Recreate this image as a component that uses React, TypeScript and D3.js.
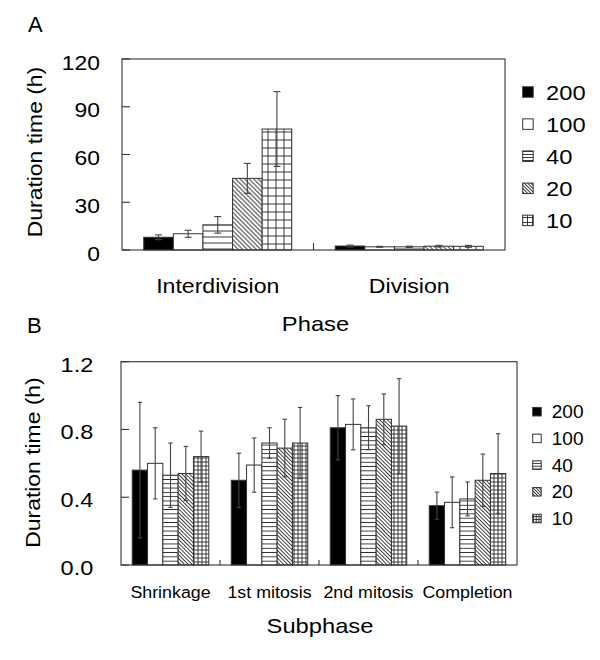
import React from "react";
import * as d3 from "d3";

// ---------- data ----------
const SERIES = ["200", "100", "40", "20", "10"];

const PHASES = ["Interdivision", "Division"];
const interdivisionMeans = [8.0, 10.2, 15.8, 45.0, 76.0];
const interdivisionErrs = [1.5, 2.2, 5.2, 9.4, 23.5];
const divisionMeans = [2.5, 2.0, 2.0, 2.4, 2.3];
const divisionErrs = [0.6, 0.3, 0.4, 0.5, 0.6];
const phaseTicks = [0, 30, 60, 90, 120];

const SUBPHASES = ["Shrinkage", "1st mitosis", "2nd mitosis", "Completion"];
const shrinkageMeans = [0.56, 0.6, 0.53, 0.54, 0.64];
const shrinkageErrs = [0.4, 0.21, 0.19, 0.16, 0.15];
const mitosis1Means = [0.5, 0.59, 0.72, 0.69, 0.72];
const mitosis1Errs = [0.16, 0.16, 0.09, 0.17, 0.21];
const mitosis2Means = [0.81, 0.83, 0.81, 0.86, 0.82];
const mitosis2Errs = [0.19, 0.15, 0.13, 0.15, 0.28];
const completionMeans = [0.35, 0.37, 0.39, 0.5, 0.54];
const completionErrs = [0.08, 0.15, 0.1, 0.155, 0.235];
const subphaseTicks = [0, 0.4, 0.8, 1.2];

const FONT = "'Liberation Sans', Arial, Helvetica, sans-serif";
const FILLS = ["solid", "white", "h", "d", "g"];

type Row = { cat: string; means: number[]; errs: number[] };

const T = ({ x, y, size, anchor = "start", sx = 1.1, rotate = 0, children }: any) => (
  <text
    transform={`translate(${x},${y}) rotate(${rotate}) scale(${sx},1)`}
    fontSize={size}
    textAnchor={anchor}
    fontFamily={FONT}
    fill="#000"
  >
    {children}
  </text>
);

function Patterns({ id, h, d, g }: { id: string; h: number; d: number; g: number }) {
  const stroke = "#222";
  const sw = 0.9;
  return (
    <>
      <pattern id={`${id}-h`} width={8} height={h} patternUnits="userSpaceOnUse">
        <rect width={8} height={h} fill="#fff" />
        <line x1={0} x2={8} y1={h / 2} y2={h / 2} stroke={stroke} strokeWidth={sw} />
      </pattern>
      <pattern id={`${id}-d`} width={8} height={d} patternUnits="userSpaceOnUse" patternTransform="rotate(45)">
        <rect width={8} height={d} fill="#fff" />
        <line x1={0} x2={8} y1={d / 2} y2={d / 2} stroke={stroke} strokeWidth={sw} />
      </pattern>
      <pattern id={`${id}-g`} width={g} height={g} patternUnits="userSpaceOnUse">
        <rect width={g} height={g} fill="#fff" />
        <line x1={0} x2={g} y1={g / 2} y2={g / 2} stroke={stroke} strokeWidth={sw} />
        <line x1={g / 2} x2={g / 2} y1={0} y2={g} stroke={stroke} strokeWidth={sw} />
      </pattern>
    </>
  );
}

function fillFor(i: number, pid: string) {
  const f = FILLS[i];
  if (f === "solid") return "#000";
  if (f === "white") return "#fff";
  return `url(#${pid}-${f})`;
}

function Panel(props: {
  rows: Row[];
  x0: number; x1: number; y0: number; y1: number;
  max: number; ticks: number[]; fmt: (v: number) => string;
  pid: string; tickLen: number; sepLen: number; capW: number;
  tickSize: number; tickSx: number; tickDy: number; tickX: number;
  catSize: number; catSx: number; catY: number;
}) {
  const p = props;
  const x = d3.scaleBand().domain(p.rows.map((r) => r.cat)).range([p.x0, p.x1]).paddingInner(0).paddingOuter(0);
  const xs = d3.scaleBand().domain(SERIES).range([0, x.bandwidth()]).paddingInner(0).paddingOuter(0.735);
  const y = d3.scaleLinear().domain([0, p.max]).range([p.y0, p.y1]);
  const axisColor = "#333";
  return (
    <g>
      {p.rows.map((r) => (
        <g key={r.cat}>
          {SERIES.map((s, i) => {
            const bx = (x(r.cat) as number) + (xs(s) as number);
            const v = r.means[i];
            return (
              <rect
                key={s}
                x={bx}
                y={y(v)}
                width={xs.bandwidth()}
                height={y(0) - y(v)}
                fill={fillFor(i, p.pid)}
                stroke="#333"
                strokeWidth={1}
              />
            );
          })}
          {SERIES.map((s, i) => {
            const cx = (x(r.cat) as number) + (xs(s) as number) + xs.bandwidth() / 2;
            const v = r.means[i];
            const e = r.errs[i];
            return (
              <g key={s} stroke="#444" strokeWidth={1.1}>
                <line x1={cx} x2={cx} y1={y(v + e)} y2={y(Math.max(0, v - e))} />
                <line x1={cx - p.capW} x2={cx + p.capW} y1={y(v + e)} y2={y(v + e)} />
                <line x1={cx - p.capW} x2={cx + p.capW} y1={y(Math.max(0, v - e))} y2={y(Math.max(0, v - e))} />
              </g>
            );
          })}
          <T x={(x(r.cat) as number) + x.bandwidth() / 2} y={p.catY} size={p.catSize} sx={p.catSx} anchor="middle">
            {r.cat}
          </T>
        </g>
      ))}
      {/* frame */}
      <rect x={p.x0} y={p.y1} width={p.x1 - p.x0} height={p.y0 - p.y1} fill="none" stroke={axisColor} strokeWidth={1.1} />
      {/* y ticks (inside) */}
      {p.ticks.map((t) => (
        <g key={t}>
          <line x1={p.x0} x2={p.x0 + p.tickLen} y1={y(t)} y2={y(t)} stroke={axisColor} strokeWidth={1.1} />
          <T x={p.tickX} y={y(t) + p.tickDy} size={p.tickSize} sx={p.tickSx} anchor="end">
            {p.fmt(t)}
          </T>
        </g>
      ))}
      {/* category separators */}
      {p.rows.slice(1).map((r) => (
        <line
          key={r.cat}
          x1={x(r.cat) as number}
          x2={x(r.cat) as number}
          y1={p.y0}
          y2={p.y0 - p.sepLen}
          stroke={axisColor}
          strokeWidth={1.1}
        />
      ))}
    </g>
  );
}

function Legend({ x, y0, step, sq, textX, size, sx, dy, pid }: any) {
  return (
    <g>
      {SERIES.map((s, i) => {
        const cy = y0 + i * step;
        return (
          <g key={s}>
            <rect x={x} y={cy - sq / 2} width={sq} height={sq} fill={fillFor(i, pid)} stroke="#333" strokeWidth={1} />
            <T x={textX} y={cy + dy} size={size} sx={sx}>
              {s}
            </T>
          </g>
        );
      })}
    </g>
  );
}

export default function App() {
  const rowsA: Row[] = [
    { cat: PHASES[0], means: interdivisionMeans, errs: interdivisionErrs },
    { cat: PHASES[1], means: divisionMeans, errs: divisionErrs },
  ];
  const rowsB: Row[] = [
    { cat: SUBPHASES[0], means: shrinkageMeans, errs: shrinkageErrs },
    { cat: SUBPHASES[1], means: mitosis1Means, errs: mitosis1Errs },
    { cat: SUBPHASES[2], means: mitosis2Means, errs: mitosis2Errs },
    { cat: SUBPHASES[3], means: completionMeans, errs: completionErrs },
  ];
  return (
    <svg
      width={600}
      height={660}
      style={{ position: "absolute", left: 0, top: 0, background: "#fff" }}
    >
      <defs>
        <Patterns id="pa" h={6} d={3.2} g={8} />
        <Patterns id="pal" h={3} d={2.4} g={5} />
        <Patterns id="pb" h={4.3} d={2.7} g={4} />
        <Patterns id="pbl" h={2.8} d={2.2} g={2.8} />
      </defs>
      <rect width={600} height={660} fill="#fff" />

      {/* Panel A */}
      <T x={28} y={31.7} size={22} sx={1}>A</T>
      <Panel
        rows={rowsA}
        x0={122} x1={505} y0={250} y1={59}
        max={120} ticks={phaseTicks} fmt={(v) => String(v)}
        pid="pa" tickLen={8} sepLen={7} capW={3.5}
        tickSize={21} tickSx={1.09} tickDy={10.5} tickX={100}
        catSize={21} catSx={1.1} catY={293.3}
      />
      <T x={41.7} y={152} size={21} sx={1.09} rotate={-90} anchor="middle">Duration time (h)</T>
      <T x={315.5} y={330.7} size={21} sx={1.13} anchor="middle">Phase</T>
      <Legend x={522.7} y0={92} step={32.1} sq={10.5} textX={546} size={21} sx={1.13} dy={7.5} pid="pal" />

      {/* Panel B */}
      <T x={27} y={333} size={22} sx={1}>B</T>
      <Panel
        rows={rowsB}
        x0={121} x1={517} y0={565} y1={361.7}
        max={1.2} ticks={subphaseTicks} fmt={(v) => d3.format(".1f")(v)}
        pid="pb" tickLen={8} sepLen={5} capW={2.2}
        tickSize={21} tickSx={1.12} tickDy={10} tickX={93.3}
        catSize={16.5} catSx={1.08} catY={598.3}
      />
      <T x={40} y={462.5} size={21} sx={1.09} rotate={-90} anchor="middle">Duration time (h)</T>
      <T x={320} y={633.3} size={21} sx={1.13} anchor="middle">Subphase</T>
      <Legend x={532.7} y0={411.7} step={26.7} sq={8.5} textX={551.7} size={18} sx={1.06} dy={6.5} pid="pbl" />
    </svg>
  );
}
